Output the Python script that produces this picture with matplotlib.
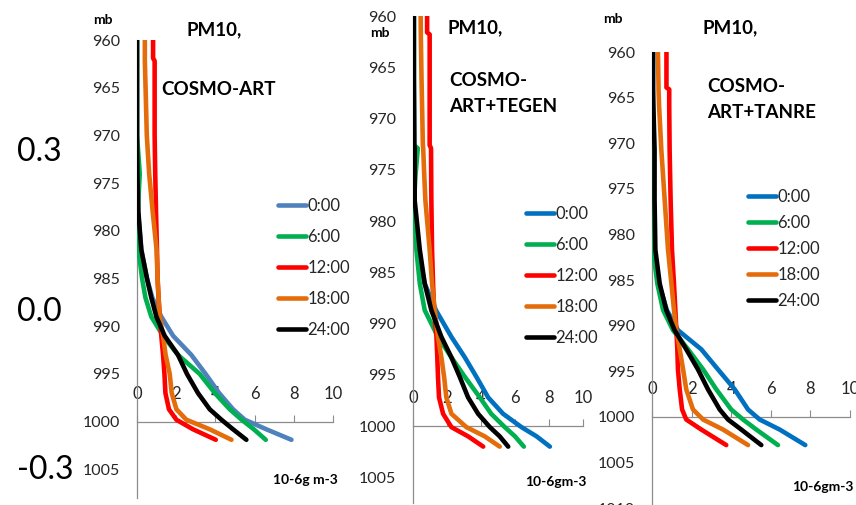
import matplotlib
matplotlib.use("Agg")
import matplotlib.pyplot as plt

plt.rcParams["font.family"] = ["Lato", "DejaVu Sans"]

# ---- data (mb levels, PM10 in 10-6 g m-3) ----
HOURS = ["0:00", "6:00", "12:00", "18:00", "24:00"]
X_TICKS = [0, 2, 4, 6, 8, 10]

P_ART = [960, 961.9, 962.2, 966, 970, 974, 978, 982, 985, 987, 989, 991,
         993, 995, 997, 998.7, 999.8, 1000.8, 1001.9]
ART_0 = [0, 0, 0, 0, 0, 0, 0.05, 0.22, 0.51, 0.78, 1.24, 1.84, 2.77, 3.5,
         4.19, 4.9, 5.5, 6.6, 7.88]
ART_6 = [0, 0, 0, 0, 0, 0.14, 0.04, 0.08, 0.26, 0.43, 0.73, 1.33, 2.09,
         3.2, 3.97, 4.73, 5.34, 5.96, 6.57]
ART_12 = [0.82, 0.82, 0.9, 0.9, 0.9, 0.93, 0.97, 1.02, 1.05, 1.1, 1.16,
          1.24, 1.33, 1.4, 1.45, 1.63, 2.01, 2.86, 4.02]
ART_18 = [0.4, 0.4, 0.4, 0.45, 0.5, 0.62, 0.8, 1.0, 1.05, 1.1, 1.16, 1.33,
          1.46, 1.67, 1.77, 2.01, 2.52, 3.71, 4.82]
ART_24 = [0, 0, 0, 0, 0, 0.02, 0.07, 0.22, 0.51, 0.73, 0.99, 1.41, 2.09,
          2.55, 3.11, 3.71, 4.31, 4.9, 5.58]

P_TEGEN = [960, 961.6, 961.8, 966, 970, 972.6, 972.9, 975.5, 978, 982.8,
           986.1, 988.7, 991.3, 993.3, 995.2, 997.2, 998.8, 1000.1, 1001, 1002]
TEGEN_0 = [0.05, 0.05, 0.05, 0.05, 0.05, 0.05, 0.05, 0.05, 0.05, 0.3, 0.69,
           1.35, 2.26, 3.05, 3.73, 4.42, 5.3, 6.38, 7.27, 8.05]
TEGEN_6 = [0.05, 0.05, 0.05, 0.05, 0.05, 0.05, 0.28, 0.15, 0.06, 0.2, 0.4,
           0.69, 1.47, 2.26, 3.05, 3.93, 4.6, 5.4, 6.0, 6.52]
TEGEN_12 = [0.83, 0.83, 0.98, 0.98, 0.98, 0.98, 1.06, 1.07, 1.08, 1.12, 1.18,
            1.24, 1.38, 1.43, 1.47, 1.53, 1.77, 2.26, 3.24, 4.13]
TEGEN_18 = [0.45, 0.46, 0.46, 0.5, 0.55, 0.58, 0.6, 0.66, 0.73, 0.98, 1.12,
            1.28, 1.47, 1.67, 1.83, 1.96, 2.26, 3.14, 4.22, 5.1]
TEGEN_24 = [0.05, 0.05, 0.05, 0.05, 0.07, 0.08, 0.1, 0.1, 0.1, 0.4, 0.69,
            1.08, 1.67, 2.26, 2.75, 3.24, 3.83, 4.52, 5.1, 5.6]

P_TANRE = [960, 963.9, 964.1, 966, 970.7, 976.2, 981.7, 985.4, 988.3, 990.5,
           992.6, 994.8, 997.0, 999.2, 1000.3, 1001.4, 1003.1]
TANRE_0 = [0.05, 0.05, 0.05, 0.05, 0.05, 0.05, 0.1, 0.35, 0.75, 1.31, 2.49,
           3.33, 4.18, 4.85, 5.44, 6.45, 7.74]
TANRE_6 = [0, 0, 0, 0, 0, 0, 0.05, 0.27, 0.56, 1.06, 1.82, 2.58, 3.25, 4.0,
           4.6, 5.27, 6.36]
TANRE_12 = [0.73, 0.73, 0.87, 0.87, 0.89, 0.94, 1.01, 1.11, 1.18, 1.23,
            1.28, 1.31, 1.4, 1.52, 1.73, 2.49, 3.75]
TANRE_18 = [0.3, 0.33, 0.33, 0.36, 0.47, 0.64, 0.81, 0.98, 1.11, 1.23, 1.4,
            1.57, 1.73, 2.07, 2.58, 3.59, 4.85]
TANRE_24 = [0.05, 0.05, 0.05, 0.07, 0.13, 0.13, 0.17, 0.39, 0.72, 1.14,
            1.73, 2.32, 2.83, 3.42, 3.84, 4.51, 5.52]

ROW_LABELS = ["0.3", "0.0", "-0.3"]

W, H = 856, 505
AXIS_GREY = "#8c8c8c"
TEXT_COL = "#262626"


def fx(px):
    return px / W


def fy(py):
    return 1 - py / H


panels = [
    dict(p=P_ART, series=[ART_0, ART_6, ART_12, ART_18, ART_24],
         colors=["#4F81BD", "#00B050", "#FF0000", "#E46C0A", "#000000"],
         x0=137, x10=333, ytop=40, ybot=498, pbot=1008,
         yticks=range(960, 1006, 5),
         title=[("PM10,", 186, 30), ("COSMO-ART", 161, 90)],
         mb=(93, 20), unit=("10-6g m-3", 273, 480),
         leg=(278, 268, 0.9)),
    dict(p=P_TEGEN, series=[TEGEN_0, TEGEN_6, TEGEN_12, TEGEN_18, TEGEN_24],
         colors=["#0070C0", "#00B050", "#FF0000", "#E46C0A", "#000000"],
         x0=413, x10=583, ytop=16, ybot=503, pbot=1007.5,
         yticks=range(960, 1006, 5),
         title=[("PM10,", 448, 28), ("COSMO-", 449, 80), ("ART+TEGEN", 449, 107)],
         mb=(370, 33), unit=("10-6gm-3", 525, 482),
         leg=(526, 276, 0.9)),
    dict(p=P_TANRE, series=[TANRE_0, TANRE_6, TANRE_12, TANRE_18, TANRE_24],
         colors=["#0070C0", "#00B050", "#FF0000", "#E46C0A", "#000000"],
         x0=652, x10=850, ytop=52, ybot=508, pbot=1010,
         yticks=range(960, 1011, 5),
         title=[("PM10,", 702, 28), ("COSMO-", 707, 87), ("ART+TANRE", 707, 112)],
         mb=(603, 19), unit=("10-6gm-3", 792, 487),
         leg=(748, 249, 0.6)),
]

fig = plt.figure(figsize=(W / 100, H / 100), dpi=100)

for spec in panels:
    ax = fig.add_axes([fx(spec["x0"]), fy(spec["ybot"]),
                       (spec["x10"] - spec["x0"]) / W,
                       (spec["ybot"] - spec["ytop"]) / H])
    ax.patch.set_alpha(0)

    for vals, col, lab in zip(spec["series"], spec["colors"], HOURS):
        ax.plot(vals, spec["p"], color=col, lw=3.3, label=lab, zorder=3,
                solid_capstyle="round", solid_joinstyle="round")

    ax.set_xlim(0, 10)
    ax.set_ylim(spec["pbot"], 960)
    ax.set_xticks(X_TICKS)
    ax.set_yticks(list(spec["yticks"]))

    for side in ["top", "right"]:
        ax.spines[side].set_visible(False)
    ax.spines["bottom"].set_position(("data", 1000))
    ax.spines["bottom"].set_color(AXIS_GREY)
    ax.spines["left"].set_color(AXIS_GREY)
    ax.spines["bottom"].set_linewidth(0.9)
    ax.spines["left"].set_linewidth(0.9)

    ax.tick_params(axis="x", direction="in", length=5, color=AXIS_GREY,
                   pad=-26, labelsize=12, labelcolor=TEXT_COL)
    ax.tick_params(axis="y", length=0, pad=12, labelsize=11.5,
                   labelcolor=TEXT_COL)

    hx, cy, spacing = spec["leg"]
    leg = ax.legend(loc="center left", bbox_to_anchor=(fx(hx), fy(cy)),
                    bbox_transform=fig.transFigure, frameon=False,
                    fontsize=12, handlelength=1.7, handletextpad=0.05,
                    labelspacing=spacing, borderpad=0, borderaxespad=0)
    for txt in leg.get_texts():
        txt.set_color(TEXT_COL)

    for txt, px, py in spec["title"]:
        fig.text(fx(px), fy(py), txt, fontsize=13.5, fontweight="bold",
                 ha="left", va="center", color="black")
    fig.text(fx(spec["mb"][0]), fy(spec["mb"][1]), "mb", fontsize=10,
             fontweight="bold", ha="left", va="center", color="black")
    unit, ux, uy = spec["unit"]
    fig.text(fx(ux), fy(uy), unit, fontsize=10, fontweight="bold",
             ha="left", va="center", color="black")

for lab, py in zip(ROW_LABELS, [152, 312, 470]):
    fig.text(fx(17), fy(py), lab, fontsize=23, ha="left", va="center",
             color="black")

fig.savefig("out.png", dpi=100)
